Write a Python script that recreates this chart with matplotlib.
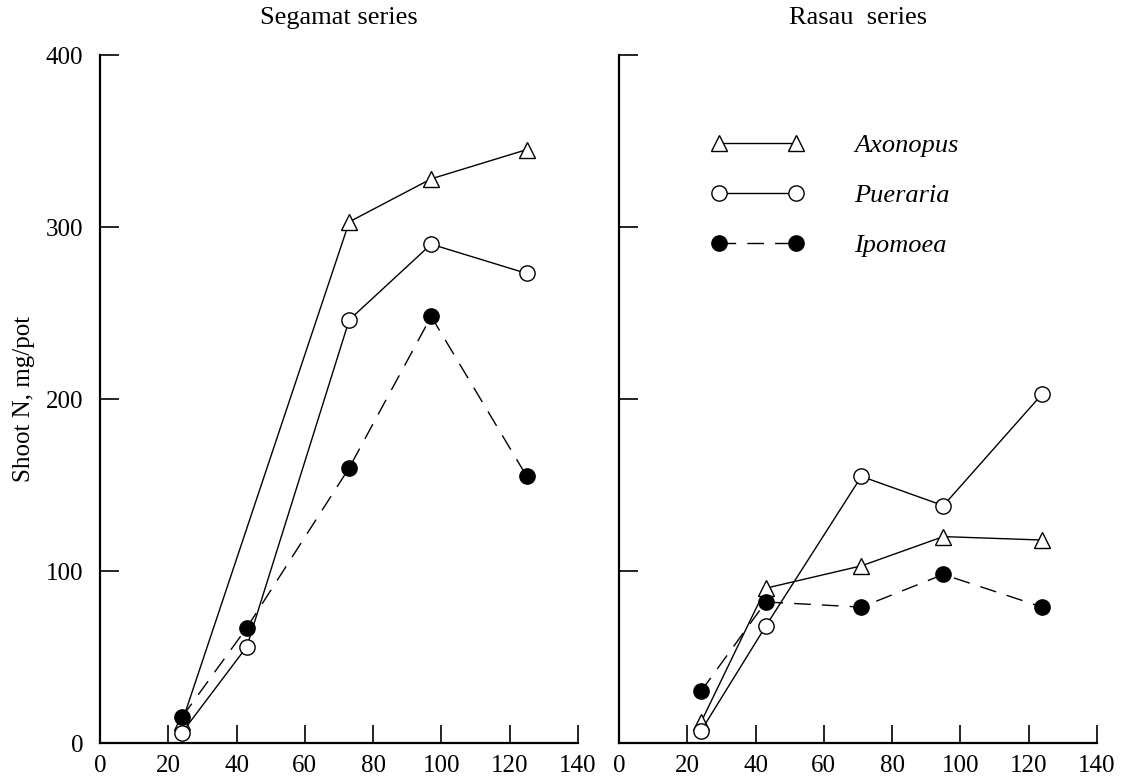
import numpy as np
import matplotlib.pyplot as plt

plt.rcParams['font.family'] = ['Liberation Serif', 'DejaVu Serif']

# sampling times (days)
seg_x = [24, 43, 73, 97, 125]
seg_axo_x = [24, 73, 97, 125]
ras_x = [24, 43, 71, 95, 124]

# Segamat series, shoot N (mg/pot)
seg_axonopus = [12, 303, 328, 345]
seg_pueraria = [6, 56, 246, 290, 273]
seg_ipomoea = [15, 67, 160, 248, 155]

# Rasau series
ras_axonopus = [12, 90, 103, 120, 118]
ras_pueraria = [7, 68, 155, 138, 203]
ras_ipomoea = [30, 82, 79, 98, 79]

x_ticks = [0, 20, 40, 60, 80, 100, 120, 140]
y_ticks = [0, 100, 200, 300, 400]

fig = plt.figure(figsize=(11.29, 7.83), dpi=100)
W, H = 1129, 783
ax1 = fig.add_axes([100 / W, 40 / H, 478 / W, 688 / H])
ax2 = fig.add_axes([619 / W, 40 / H, 478 / W, 688 / H])

line_kw = dict(color='black', lw=1.0, mec='black', mew=1.0)


def draw(ax, x_axo, axo, x, pue, ipo):
    ax.plot(x_axo, axo, marker='^', ms=12, mfc='white', ls='-', label='Axonopus', **line_kw)
    ax.plot(x, pue, marker='o', ms=11, mfc='white', ls='-', label='Pueraria', **line_kw)
    ax.plot(x, ipo, marker='o', ms=11, mfc='black', ls=(0, (12, 8)), label='Ipomoea', **line_kw)
    ax.set_xlim(0, 140)
    ax.set_ylim(0, 400)
    ax.set_xticks(x_ticks)
    ax.set_yticks(y_ticks)
    for s in ['top', 'right']:
        ax.spines[s].set_visible(False)
    for s in ['left', 'bottom']:
        ax.spines[s].set_linewidth(1.6)
    ax.tick_params(axis='x', direction='in', length=13, width=1.2, pad=9, labelsize=18)
    ax.tick_params(axis='y', direction='in', length=14, width=1.2, pad=12, labelsize=18)


draw(ax1, seg_axo_x, seg_axonopus, seg_x, seg_pueraria, seg_ipomoea)
draw(ax2, ras_x, ras_axonopus, ras_x, ras_pueraria, ras_ipomoea)
ax2.tick_params(axis='y', labelleft=False)

ax1.set_title('Segamat series', fontsize=19, pad=22)
ax2.set_title('Rasau  series', fontsize=19, pad=22)
ax1.set_ylabel('Shoot N, mg/pot', fontsize=18, labelpad=8)

leg = ax2.legend(loc='upper left', bbox_to_anchor=(0.144, 0.92), frameon=False,
                 numpoints=2, handlelength=3.5, handletextpad=1.9, labelspacing=1.0,
                 prop={'size': 19, 'style': 'italic'})

fig.savefig('out.png', dpi=100)
